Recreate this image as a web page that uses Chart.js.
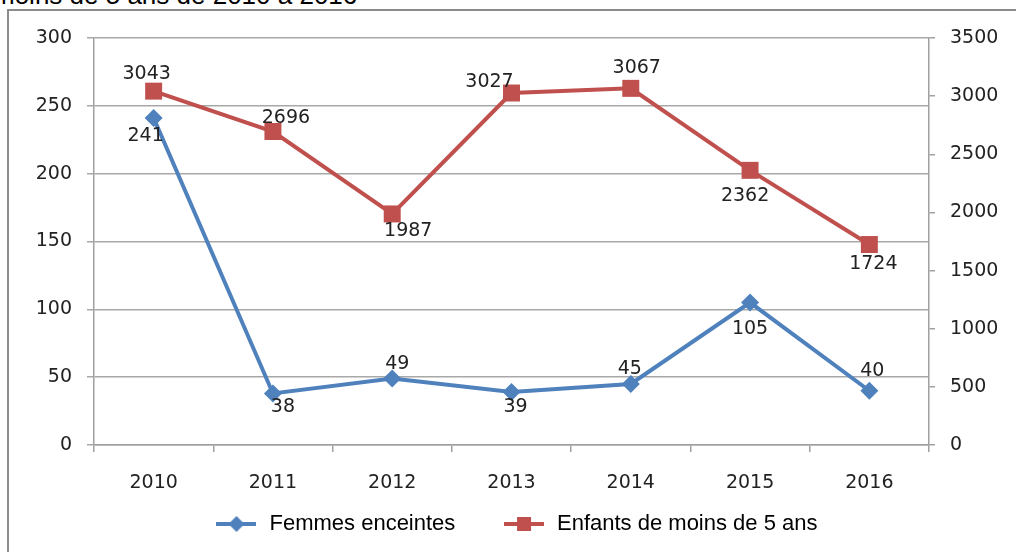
<!DOCTYPE html>
<html>
<head>
<meta charset="utf-8">
<script src="https://cdn.jsdelivr.net/npm/chart.js@4/dist/chart.umd.min.js"></script>
<style>
  html, body { margin: 0; padding: 0; background: #fff; overflow: hidden; }
  #wrap { position: relative; width: 1016px; height: 552px; overflow: hidden; }
  #title { position: absolute; left: -7px; top: -18px; font: 26px/26px "Liberation Sans", Arial, sans-serif; color: #000; white-space: nowrap; }
  #frame { position: absolute; left: 7px; top: 9px; width: 1100px; height: 700px; border-left: 2px solid #8c8c8c; border-top: 2px solid #8c8c8c; }
  #c { position: absolute; left: 0; top: 0; }
</style>
</head>
<body>
<div id="wrap">
  <div id="title">moins de 5 ans de 2010 à 2016</div>
  <div id="frame"></div>
  <canvas id="c" width="1016" height="552"></canvas>
</div>
<script>
const years = ['2010', '2011', '2012', '2013', '2014', '2015', '2016'];
const femmes = [241, 38, 49, 39, 45, 105, 40];
const enfants = [3043, 2696, 1987, 3027, 3067, 2362, 1724];
const leftTicks = [0, 50, 100, 150, 200, 250, 300];
const rightTicks = [0, 500, 1000, 1500, 2000, 2500, 3000, 3500];

// where each value label sits relative to its point (px)
const femmesLabelPos = [[-8, 18], [10, 14], [5, -14], [4, 15], [-1, -15], [0, 27], [3, -20]];
const enfantsLabelPos = [[-7, -17], [13, -13], [16, 17], [-22, -11], [6, -20], [-5, 26], [4, 20]];

const BLUE = '#4F81BD';
const RED = '#C0504D';
const tickFont = { family: '"DejaVu Sans", Verdana, sans-serif', size: 19 };

function marker(color, shape) {
  const cv = document.createElement('canvas');
  cv.width = 40; cv.height = 20;
  const g = cv.getContext('2d');
  g.strokeStyle = color; g.lineWidth = 4;
  g.beginPath(); g.moveTo(0, 10); g.lineTo(40, 10); g.stroke();
  g.fillStyle = color;
  if (shape === 'diamond') {
    g.beginPath(); g.moveTo(20, 2); g.lineTo(28, 10); g.lineTo(20, 18); g.lineTo(12, 10); g.closePath(); g.fill();
  } else {
    g.fillRect(13, 3, 14, 14);
  }
  return cv;
}
const blueMarker = marker(BLUE, 'diamond');
const redMarker = marker(RED, 'square');

const valueLabels = {
  id: 'valueLabels',
  afterDatasetsDraw(chart) {
    const ctx = chart.ctx;
    ctx.save();
    ctx.font = '19px "DejaVu Sans", Verdana, sans-serif';
    ctx.fillStyle = '#222';
    ctx.textAlign = 'center';
    ctx.textBaseline = 'middle';
    const offs = [femmesLabelPos, enfantsLabelPos];
    chart.data.datasets.forEach((ds, di) => {
      chart.getDatasetMeta(di).data.forEach((pt, i) => {
        const o = offs[di][i];
        ctx.fillText(String(ds.data[i]), pt.x + o[0], pt.y + o[1]);
      });
    });
    ctx.restore();
  }
};

new Chart(document.getElementById('c'), {
  type: 'line',
  data: {
    labels: years,
    datasets: [{
      label: 'Femmes enceintes',
      data: femmes,
      yAxisID: 'y',
      borderColor: BLUE,
      backgroundColor: BLUE,
      borderWidth: 4,
      pointStyle: 'rectRot',
      pointRadius: 9,
      pointBorderWidth: 0,
      tension: 0
    }, {
      label: 'Enfants de moins de 5 ans',
      data: enfants,
      yAxisID: 'y1',
      borderColor: RED,
      backgroundColor: RED,
      borderWidth: 4,
      pointStyle: 'rect',
      pointRadius: 12,
      pointBorderWidth: 0,
      tension: 0
    }]
  },
  options: {
    responsive: false,
    animation: false,
    layout: { padding: { top: 38, left: 16, right: 0, bottom: 7 } },
    plugins: {
      tooltip: { enabled: false },
      legend: {
        position: 'bottom',
        labels: {
          usePointStyle: true,
          pointStyleWidth: 44,
          padding: 10,
          color: '#222',
          font: { family: '"Liberation Sans", Arial, sans-serif', size: 22 },
          generateLabels(chart) {
            return chart.data.datasets.map((ds, i) => ({
              // trailing spaces widen the gap before the second entry
              text: i === 0 ? ds.label + '      ' : ds.label,
              pointStyle: i === 0 ? blueMarker : redMarker,
              fillStyle: ds.borderColor,
              strokeStyle: ds.borderColor,
              lineWidth: 0,
              hidden: false,
              datasetIndex: i
            }));
          }
        }
      }
    },
    scales: {
      x: {
        offset: true,
        grid: { offset: true, drawOnChartArea: false, color: '#a0a0a0', tickLength: 7, lineWidth: 1.5 },
        border: { color: '#a0a0a0', width: 1.5 },
        ticks: { font: tickFont, color: '#222', padding: 20, maxRotation: 0 },
        afterFit(s) { s.height = 58; }
      },
      y: {
        position: 'left',
        min: 0, max: 300,
        afterBuildTicks(s) { s.ticks = leftTicks.map(v => ({ value: v })); },
        grid: { color: '#a8a8a8', tickLength: 7, lineWidth: 1.5 },
        border: { color: '#a0a0a0', width: 1.5 },
        ticks: { font: tickFont, color: '#222', padding: 15, callback: v => String(v) },
        afterFit(s) { s.width = 78; }
      },
      y1: {
        position: 'right',
        min: 0, max: 3500,
        afterBuildTicks(s) { s.ticks = rightTicks.map(v => ({ value: v })); },
        grid: { drawOnChartArea: false, color: '#a0a0a0', tickLength: 6, lineWidth: 1.5 },
        border: { color: '#a0a0a0', width: 1.5 },
        ticks: { font: tickFont, color: '#222', padding: 15, callback: v => String(v) },
        afterFit(s) { s.width = 87; }
      }
    }
  },
  plugins: [valueLabels]
});
</script>
</body>
</html>
